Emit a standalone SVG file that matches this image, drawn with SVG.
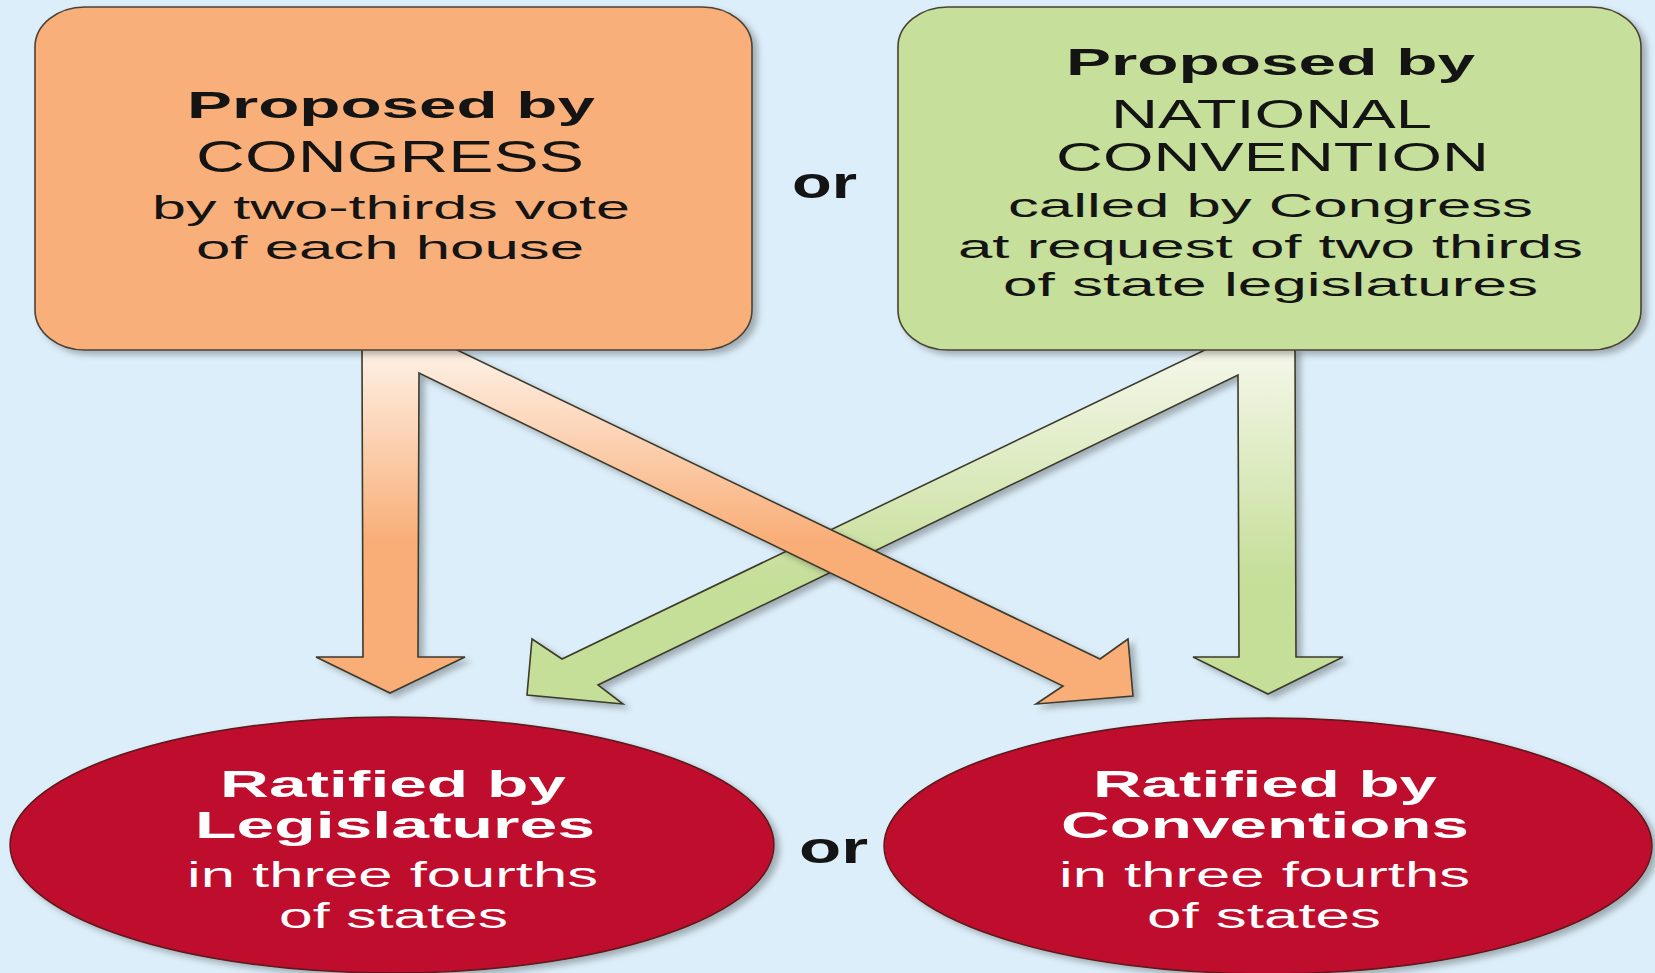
<svg xmlns="http://www.w3.org/2000/svg" width="1655" height="973" viewBox="0 0 1655 973">
<style>
.bg{fill:#DCEEF9}
.box{stroke:#4b4236;stroke-width:1.6}
.arrow{stroke:#3d3a2c;stroke-width:1.6;stroke-linejoin:miter}
.ell{fill:#BF0A2D;stroke:#5a1a1a;stroke-width:1.4}
.t{font-family:"Liberation Sans",Arial,Helvetica,sans-serif;fill:#141414}
.b{font-weight:bold}
.w{fill:#ffffff}
</style>
<defs>
<linearGradient id="gOr" gradientUnits="userSpaceOnUse" x1="0" y1="350" x2="0" y2="540">
<stop offset="0" stop-color="#FEF1E6"/>
<stop offset="1" stop-color="#F9AE78"/>
</linearGradient>
<linearGradient id="gGr" gradientUnits="userSpaceOnUse" x1="0" y1="350" x2="0" y2="580">
<stop offset="0" stop-color="#F5F7EA"/>
<stop offset="1" stop-color="#C5DE98"/>
</linearGradient>
<filter id="sh" x="-10%" y="-10%" width="130%" height="130%">
<feDropShadow dx="5" dy="4" stdDeviation="3" flood-color="#000" flood-opacity="0.28"/>
</filter>
</defs>
<rect class="bg" x="0" y="0" width="1655" height="973"/>

<g id="connectors">
<polygon id="arrows-convention" class="arrow" fill="url(#gGr)" filter="url(#sh)" points="1295,348 1296,657 1343,657 1268,694 1193,657 1239,657 1238,375 598,685 623,704 527,695 532,639 562,659 1209,348"/>
<polygon id="arrows-congress" class="arrow" fill="url(#gOr)" filter="url(#sh)" points="362,348 363,657 316,657 390,693 465,657 418,657 419,373 1063,686 1036,704 1133,696 1128,639 1100,659 453,348"/>
</g>

<g id="node-congress">
<rect class="box" x="35" y="7" width="717" height="343" rx="50" ry="40" fill="#F9AF7A" filter="url(#sh)"/>
<text class="t b" x="187" y="118" font-size="37" textLength="408" lengthAdjust="spacingAndGlyphs">Proposed by</text>
<text class="t" x="196" y="172" font-size="44" textLength="388" lengthAdjust="spacingAndGlyphs">CONGRESS</text>
<text class="t" x="152" y="219" font-size="34" textLength="478" lengthAdjust="spacingAndGlyphs">by two-thirds vote</text>
<text class="t" x="196" y="259" font-size="34" textLength="388" lengthAdjust="spacingAndGlyphs">of each house</text>
</g>

<g id="node-convention">
<rect class="box" x="898" y="7" width="743" height="343" rx="50" ry="40" fill="#C6DF9A" filter="url(#sh)"/>
<text class="t b" x="1066" y="75" font-size="37" textLength="409" lengthAdjust="spacingAndGlyphs">Proposed by</text>
<text class="t" x="1111" y="128" font-size="41" textLength="321" lengthAdjust="spacingAndGlyphs">NATIONAL</text>
<text class="t" x="1056" y="171" font-size="41" textLength="433" lengthAdjust="spacingAndGlyphs">CONVENTION</text>
<text class="t" x="1008" y="217" font-size="34" textLength="525" lengthAdjust="spacingAndGlyphs">called by Congress</text>
<text class="t" x="958" y="258" font-size="34" textLength="625" lengthAdjust="spacingAndGlyphs">at request of two thirds</text>
<text class="t" x="1003" y="296" font-size="34" textLength="535" lengthAdjust="spacingAndGlyphs">of state legislatures</text>
</g>

<g id="or-top">
<text class="t b" x="792" y="198" font-size="44" textLength="65" lengthAdjust="spacingAndGlyphs">or</text>
</g>

<g id="node-legislatures">
<ellipse class="ell" cx="392" cy="845" rx="382" ry="128" filter="url(#sh)"/>
<text class="t b w" x="220" y="797" font-size="36" textLength="346" lengthAdjust="spacingAndGlyphs">Ratified by</text>
<text class="t b w" x="195" y="838" font-size="36" textLength="400" lengthAdjust="spacingAndGlyphs">Legislatures</text>
<text class="t w" x="187" y="887" font-size="35" textLength="411" lengthAdjust="spacingAndGlyphs">in three fourths</text>
<text class="t w" x="279" y="928" font-size="35" textLength="229" lengthAdjust="spacingAndGlyphs">of states</text>
</g>

<g id="or-bottom">
<text class="t b" x="799" y="863" font-size="44" textLength="69" lengthAdjust="spacingAndGlyphs">or</text>
</g>

<g id="node-conventions">
<ellipse class="ell" cx="1268" cy="846" rx="384" ry="128" filter="url(#sh)"/>
<text class="t b w" x="1093" y="797" font-size="36" textLength="344" lengthAdjust="spacingAndGlyphs">Ratified by</text>
<text class="t b w" x="1061" y="838" font-size="36" textLength="408" lengthAdjust="spacingAndGlyphs">Conventions</text>
<text class="t w" x="1059" y="887" font-size="35" textLength="411" lengthAdjust="spacingAndGlyphs">in three fourths</text>
<text class="t w" x="1147" y="928" font-size="35" textLength="234" lengthAdjust="spacingAndGlyphs">of states</text>
</g>
</svg>
